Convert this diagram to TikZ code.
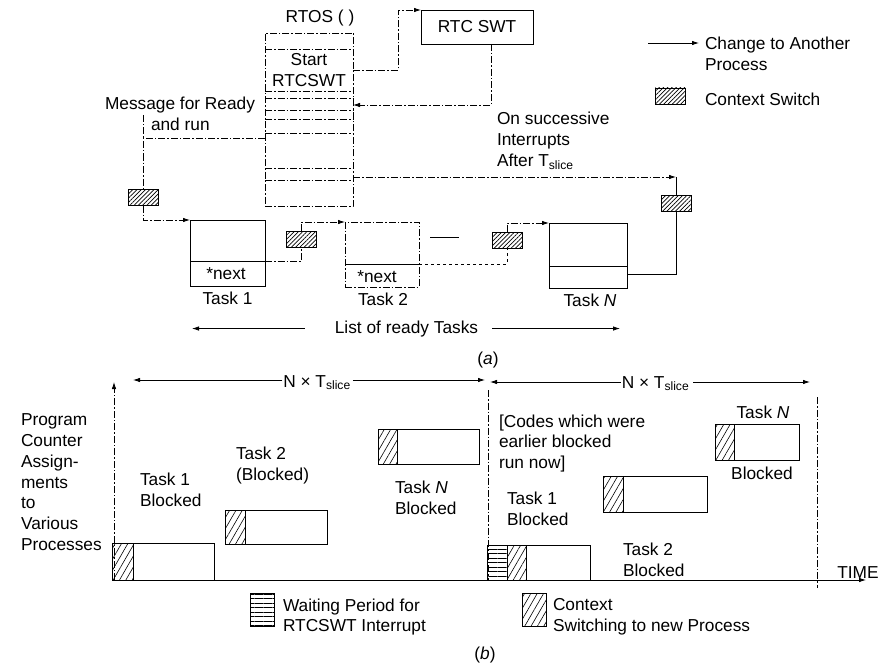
\documentclass[tikz,border=0pt]{standalone}
\usepackage{fontspec}
\setmainfont{Liberation Sans}
\usetikzlibrary{arrows.meta,patterns.meta}
\begin{document}
\begin{tikzpicture}[x=1pt,y=-1pt,
  font=\fontsize{17.3}{21}\selectfont,
  line width=0.8pt,
  bx/.style={draw,inner sep=0pt,outer sep=0pt},
  tx/.style={inner sep=0pt,outer sep=0pt},
  dd/.style={dash pattern=on 7pt off 2pt on 1.5pt off 2pt},
  arr/.style={-{Latex[length=7pt,width=4.5pt]}},
  hA/.style={bx,pattern={Lines[angle=45,distance=3pt,line width=0.7pt]}},
  hB/.style={bx,pattern={Lines[angle=60,distance=5.5pt,line width=0.6pt]}},
  hL/.style={bx,pattern={Lines[angle=0,distance=4.5pt,line width=0.6pt]}},
]
\useasboundingbox (0,0) rectangle (886,666);
% ---------------- (a) ----------------
\node[tx] (rtosl) at (320,18) {RTOS ( )};
\node[bx,dd,minimum width=88pt,minimum height=173pt] (rtos) at (309,119.5) {};
\foreach \yy in {49,91,98,110,119,133,168,180}
  \draw[dd] (rtos.west |- 0,\yy) -- (rtos.east |- 0,\yy);
\node[tx,align=center,anchor=north] (start) at (309,53.7) {Start\\RTCSWT};
\node[bx,minimum width=112pt,minimum height=34pt] (rtc) at (477,27) {RTC SWT};
\draw[dd,arr] (rtos.east |- 0,70) -| (398,10) -- (rtc.north west);
\draw[dd,arr] ([xshift=14pt]rtc.south) |- (rtos.east |- 0,105);

\node[tx,align=left,anchor=north west] (onsucc) at (497,111.7) {On successive\\Interrupts\\After T\textsubscript{slice}};

\node[hA,minimum width=30pt,minimum height=16pt] (cs1) at (143,197.5) {};
\node[hA,minimum width=30pt,minimum height=16pt] (cs2) at (301,239) {};
\node[hA,minimum width=30pt,minimum height=16pt] (cs3) at (507,240) {};
\node[hA,minimum width=30pt,minimum height=16pt] (cs4) at (676,203) {};

\coordinate (ic) at (676,177);
\draw[dd,arr] (rtos.east |- ic) -- (ic);
\draw (ic) -- (cs4.north);

\node[bx,minimum width=75pt,minimum height=66pt] (t1) at (227.5,253) {};
\draw (t1.west |- 0,261) -- (t1.east |- 0,261);
\node[tx,anchor=base] (n1) at (226,279) {*next};
\node[tx,anchor=base] (t1l) at (227.5,304) {Task 1};

\node[bx,dd,minimum width=74pt,minimum height=65pt] (t2) at (382,254.5) {};
\draw (t2.west |- 0,264) -- (t2.east |- 0,264);
\node[tx,anchor=base] (n2) at (377,282) {*next};
\node[tx,anchor=base] (t2l) at (383,305) {Task 2};

\node[bx,minimum width=78pt,minimum height=65pt] (tN) at (588,255.5) {};
\draw (tN.west |- 0,266) -- (tN.east |- 0,266);
\node[tx,anchor=base] (tNl) at (590,306) {Task \textit{N}};

\node[tx,anchor=base west] (msg1) at (105,110) {Message for Ready};
\node[tx,anchor=base west] (msg2) at (151,131) {and run};
\coordinate (m1) at (143,115);
\draw[dd] (rtos.west |- 0,138) -| (cs1.north);
\draw[dd] (m1) -- (m1 |- 0,138);
\draw[dd,arr] (cs1.south) |- (t1.north west);
\draw[dd] (t1.east |- 0,261) -| (cs2.south);
\draw[dd,arr] (cs2.north) |- (t2.north west);
\draw[dashed] (t2.east |- 0,264) -| (cs3.south);
\draw[dd,arr] (cs3.north) |- (tN.north west);
\draw (cs4.south) |- (tN.east |- 0,274);
\coordinate (d1) at (430,237); \coordinate (d2) at (459,237);
\draw (d1) -- (d2);

\node[tx,anchor=base] (lrt) at (406.5,333) {List of ready Tasks};
\coordinate (la) at (192,328); \coordinate (ra) at (620,328);
\draw[arr] ([xshift=-30pt]lrt.west) -- (la |- lrt.west);
\draw[arr] ([xshift=14pt]lrt.east) -- (ra |- lrt.east);

\coordinate (lg1) at (648,43); \coordinate (lg2) at (699,43);
\draw[arr] (lg1) -- (lg2);
\node[tx,align=left,anchor=north west] (lgt1) at (705,36.7) {Change to Another\\Process};
\node[hA,minimum width=30pt,minimum height=16pt] (lgcs) at (670,96) {};
\node[tx,anchor=base west] (lgt2) at (705,105.1) {Context Switch};

\node[tx,anchor=base] (capa) at (488,364) {(\textit{a})};

% ---------------- (b) ----------------
\coordinate (O) at (114,580); \coordinate (ytop) at (114,382); \coordinate (xend) at (866,580);
\draw[dd,arr] (O) -- (ytop);
\draw[arr] (O) -- (xend);
\node[tx,anchor=base] (time) at (858,578) {TIME};

\node[tx,anchor=base] (nt1) at (317,387) {N × T\textsubscript{slice}};
\coordinate (nt1l) at (133,380); \coordinate (nt1r) at (485,380);
\draw[arr] ([xshift=-1pt]nt1.west |- nt1l) -- (nt1l);
\draw[arr] ([xshift=2pt]nt1.east |- nt1r) -- (nt1r);
\node[tx,anchor=base] (nt2) at (655.5,388) {N × T\textsubscript{slice}};
\coordinate (nt2l) at (490,382); \coordinate (nt2r) at (810,382);
\draw[arr] ([xshift=-1pt]nt2.west |- nt2l) -- (nt2l);
\draw[arr] ([xshift=4pt]nt2.east |- nt2r) -- (nt2r);

\coordinate (s1t) at (488,390); \coordinate (s1b) at (488,580);
\draw[dd] (s1t) -- (s1b);
\coordinate (s2t) at (817,397); \coordinate (s2b) at (817,588);
\draw[dd] (s2t) -- (s2b);

\node[tx,align=left,anchor=north west,font=\fontsize{17.3}{20.8}\selectfont] (pc) at (21,413.7)
  {Program\\Counter\\Assign-\\ments\\to\\Various\\Processes};

\node[bx,minimum width=102pt,minimum height=37pt] (b1) at (163,561.5) {};
\node[hB,minimum width=21pt,minimum height=37pt,anchor=west] (b1h) at (b1.west) {};
\node[bx,minimum width=102pt,minimum height=34pt] (b2) at (276,527) {};
\node[hB,minimum width=20pt,minimum height=34pt,anchor=west] (b2h) at (b2.west) {};
\node[bx,minimum width=101pt,minimum height=35pt] (b3) at (428.5,446.5) {};
\node[hB,minimum width=19pt,minimum height=35pt,anchor=west] (b3h) at (b3.west) {};
\node[bx,minimum width=103pt,minimum height=35pt] (b4) at (538.5,562.5) {};
\node[hL,minimum width=20pt,minimum height=35pt,anchor=west] (b4l) at (b4.west) {};
\node[hB,minimum width=19pt,minimum height=35pt,anchor=west] (b4h) at (b4l.east) {};
\node[bx,minimum width=104pt,minimum height=36pt] (b5) at (655,494) {};
\node[hB,minimum width=20pt,minimum height=36pt,anchor=west] (b5h) at (b5.west) {};
\node[bx,minimum width=84pt,minimum height=36pt] (b6) at (757,442) {};
\node[hB,minimum width=19pt,minimum height=36pt,anchor=west] (b6h) at (b6.west) {};

\node[tx,align=left,anchor=north west] (tb1) at (140,472.7) {Task 1\\Blocked};
\node[tx,align=left,anchor=north west] (tb2) at (236,446.7) {Task 2\\(Blocked)};
\node[tx,align=left,anchor=north west] (tb3) at (395,480.7) {Task \textit{N}\\Blocked};
\node[tx,align=left,anchor=north west,font=\fontsize{17.3}{20.5}\selectfont] (codes) at (499,414.7) {[Codes which were\\earlier blocked\\run now]};
\node[tx,anchor=base] (tn4) at (763,418) {Task \textit{N}};
\node[tx,anchor=base] (bl4) at (762,479) {Blocked};
\node[tx,align=left,anchor=north west] (tb5) at (507,491.7) {Task 1\\Blocked};
\node[tx,align=left,anchor=north west] (tb6) at (623,542.7) {Task 2\\Blocked};

\node[hL,minimum width=24pt,minimum height=33pt] (lgw) at (262,610) {};
\node[tx,align=left,anchor=north west,font=\fontsize{17.3}{20.5}\selectfont] (lgwt) at (283,598.7) {Waiting Period for\\RTCSWT Interrupt};
\node[hB,minimum width=24pt,minimum height=33pt] (lgc) at (534,610) {};
\node[tx,align=left,anchor=north west,font=\fontsize{17.3}{20.5}\selectfont] (lgct) at (553,598.7) {Context\\Switching to new Process};
\node[tx,anchor=base] (capb) at (485,659) {(\textit{b})};
\end{tikzpicture}
\end{document}
